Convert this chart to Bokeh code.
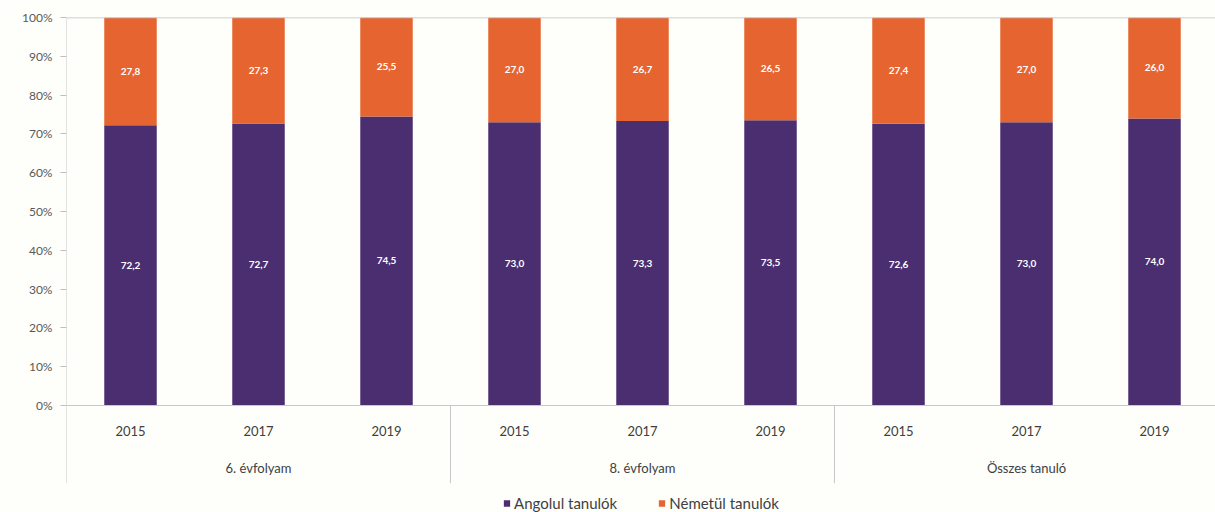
from bokeh.plotting import figure
from bokeh.models import (ColumnDataSource, Range1d, FixedTicker, PrintfTickFormatter,
                          Span, Legend, LegendItem)
from bokeh.core.properties import value
from bokeh.embed import file_html
from bokeh.resources import INLINE

groups = ["6. évfolyam", "8. évfolyam", "Összes tanuló"]
years = ["2015", "2017", "2019"]
angol = [72.2, 72.7, 74.5, 73.0, 73.3, 73.5, 72.6, 73.0, 74.0]
nemet = [27.8, 27.3, 25.5, 27.0, 26.7, 26.5, 27.4, 27.0, 26.0]
series_names = ["Angolul tanulók", "Németül tanulók"]
y_ticks = [0, 10, 20, 30, 40, 50, 60, 70, 80, 90, 100]

PURPLE = "#4b2e70"
ORANGE = "#e5642f"
FONT = "Lato"

n = len(angol)
xs = [i + 0.5 for i in range(n)]
year_labels = [years[i % len(years)] for i in range(n)]
fmt = lambda v: f"{v:.1f}".replace(".", ",")

src = ColumnDataSource(dict(
    x=xs, angol=angol, nemet=nemet,
    ang_mid=[a / 2 for a in angol],
    nem_mid=[a + b / 2 for a, b in zip(angol, nemet)],
    ang_lab=[fmt(v) for v in angol],
    nem_lab=[fmt(v) for v in nemet],
    year=year_labels,
    year_y=[-6.7] * n,
))
gsrc = ColumnDataSource(dict(
    x=[len(years) * g + len(years) / 2 for g in range(len(groups))],
    y=[-16.0] * len(groups),
    name=groups,
))

W, H = 1215, 512
LEFT, TOP = 66, 17
px_per_cat = 128.0
px_per_pct = 3.88
frame_w = W - LEFT
p = figure(width=W, height=H, output_backend="svg", toolbar_location=None,
           x_range=Range1d(0, frame_w / px_per_cat),
           y_range=Range1d(-(H - TOP - 100 * px_per_pct) / px_per_pct, 100),
           min_border_left=LEFT, min_border_right=0, min_border_top=TOP, min_border_bottom=0,
           background_fill_color="#fefefb", border_fill_color="#fefefb")
p.outline_line_color = None
p.xgrid.visible = False
p.ygrid.visible = False
p.xaxis.visible = False

ya = p.yaxis[0]
ya.ticker = FixedTicker(ticks=y_ticks)
ya.formatter = PrintfTickFormatter(format="%d%%")
ya.axis_line_color = None
ya.major_tick_line_color = "#bfbfbf"
ya.major_tick_in = 0
ya.major_tick_out = 6
ya.minor_tick_line_color = None
ya.major_label_text_font = FONT
ya.major_label_text_font_size = "12px"
ya.major_label_text_color = "#595959"
ya.major_label_standoff = 8

# bars
rs = p.vbar_stack(["angol", "nemet"], x="x", width=0.41, source=src,
                  color=[PURPLE, ORANGE], line_color=None)

# axis lines / separators
p.add_layout(Span(location=0, dimension="width", line_color="#c8c8c8", line_width=1))
p.add_layout(Span(location=100, dimension="width", line_color="#bfbfbf", line_width=1.5))
p.segment(x0=[0, 3, 6], x1=[0, 3, 6], y0=[-20] * 3, y1=[100, 0, 0],
          line_color="#c8c8c8", line_width=1)

# value labels
for ycol, lcol in (("ang_mid", "ang_lab"), ("nem_mid", "nem_lab")):
    p.text(x="x", y=ycol, text=lcol, source=src, text_align="center",
           text_baseline="middle", text_color="white", text_font=value(FONT),
           text_font_size="10px", text_font_style="bold")

# category labels
p.text(x="x", y="year_y", text="year", source=src, text_align="center",
       text_baseline="middle", text_color="#404040", text_font=value(FONT),
       text_font_size="13px")
p.text(x="x", y="y", text="name", source=gsrc, text_align="center",
       text_baseline="middle", text_color="#404040", text_font=value(FONT),
       text_font_size="13px")

legend = Legend(items=[LegendItem(label=series_names[0], renderers=[rs[0]]),
                       LegendItem(label=series_names[1], renderers=[rs[1]])],
                orientation="horizontal", location="bottom_center",
                background_fill_alpha=0, border_line_color=None,
                glyph_width=8, glyph_height=8, label_height=14, label_standoff=4,
                spacing=40, padding=2, margin=0,
                label_text_font=FONT, label_text_font_size="15px",
                label_text_color="#404040")
p.add_layout(legend)

open("out.html", "w").write(file_html(p, INLINE))
